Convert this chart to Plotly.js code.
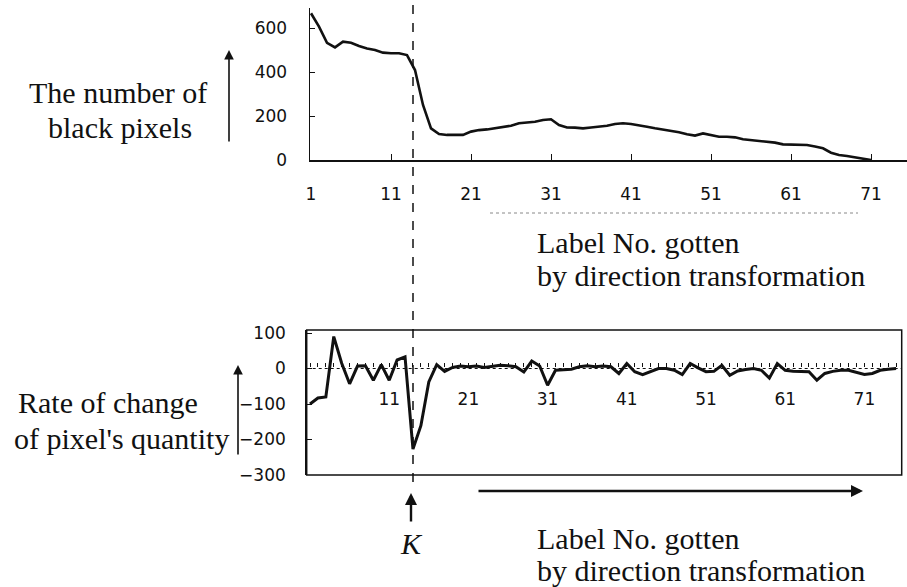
<!DOCTYPE html>
<html>
<head>
<meta charset="utf-8">
<script src="https://cdn.plot.ly/plotly-3.0.1.min.js"></script>
<style>html,body{margin:0;padding:0;background:#fff;}#chart{width:907px;height:587px;}</style>
</head>
<body>
<div id="chart"></div>
<script>
// Label numbers (x) for the black-pixel count series
var labelNo = [];
for (var i = 1; i <= 71; i++) labelNo.push(i);
var blackPixels = [667, 606, 533, 512, 538, 533, 518, 507, 500, 488,
                   485, 485, 477, 409, 250, 144, 118, 114, 114, 114,
                   129, 136, 139, 144, 148, 156, 167, 171, 174, 182,
                   185, 159, 148, 147, 144, 148, 151, 156, 164, 167,
                   164, 159, 151, 144, 139, 133, 126, 117, 111, 121,
                   114, 106, 106, 103, 94, 91, 88, 83, 79, 71,
                   71, 71, 68, 61, 53, 33, 23, 18, 12, 6, 0];

// Label numbers (x) for the rate-of-change series
var labelNo2 = [];
for (var j = 1; j <= 75; j++) labelNo2.push(j);
var rateOfChange = [-100, -83, -80, 90, 15, -43, 7, 8, -33, 11,
                    -33, 24, 33, -227, -161, -38, 11, -8, 3, 7,
                    5, 7, 3, 5, 9, 8, 5, -10, 21, 7,
                    -47, -5, -3, -2, 5, 8, 5, 7, 5, -14,
                    14, -9, -17, -9, 0, 0, -5, -17, 14, 2,
                    -9, -8, 9, -19, -7, -3, 0, -5, -27, 14,
                    -5, -8, -9, -9, -33, -14, -8, -5, -5, -11,
                    -17, -14, -5, -2, 0];

var topTicks = [1, 11, 21, 31, 41, 51, 61, 71];
var topYTicks = [0, 200, 400, 600];
var botTicks = [11, 21, 31, 41, 51, 61, 71];
var botYTicks = [-300, -200, -100, 0, 100];

var W = 907, H = 587;
function px(x) { return x / W; }
function py(y) { return 1 - y / H; }

var tickFont = {family: 'DejaVu Sans, Arial, sans-serif', size: 17, color: '#111'};
var serif = {family: 'Liberation Serif, Times New Roman, serif', size: 30, color: '#111'};

var traces = [
  {x: labelNo, y: blackPixels, xaxis: 'x', yaxis: 'y', mode: 'lines',
   line: {color: '#111', width: 2.6}, hoverinfo: 'skip'},
  {x: labelNo2, y: rateOfChange, xaxis: 'x2', yaxis: 'y2', mode: 'lines',
   line: {color: '#111', width: 3}, hoverinfo: 'skip'}
];

var layout = {
  width: W, height: H, autosize: false,
  margin: {l: 0, r: 0, t: 0, b: 0},
  paper_bgcolor: '#fff', plot_bgcolor: 'rgba(0,0,0,0)',
  showlegend: false,
  xaxis: {
    domain: [px(310), 1], range: [0.875, 75.5], anchor: 'y',
    showline: true, linecolor: '#111', linewidth: 1.5,
    showgrid: false, zeroline: false,
    tickmode: 'array', tickvals: topTicks,
    ticks: 'inside', ticklen: 6, tickcolor: '#111',
    ticklabelstandoff: 18, tickfont: tickFont
  },
  yaxis: {
    domain: [py(160), py(8)], range: [0, 691], anchor: 'x',
    showline: true, linecolor: '#111', linewidth: 1.5,
    showgrid: false, zeroline: false,
    tickmode: 'array', tickvals: topYTicks,
    ticks: 'inside', ticklen: 5, tickcolor: '#111',
    ticklabelstandoff: 18, tickfont: tickFont
  },
  xaxis2: {
    domain: [px(306.7), px(901.7)], range: [0.583, 75.71],
    anchor: 'free', position: py(366.7),
    showline: false, showgrid: false, zeroline: false,
    tickmode: 'array', tickvals: botTicks,
    ticks: 'inside', ticklen: 4, tickcolor: '#111',
    minor: {tickmode: 'linear', tick0: 1, dtick: 1, ticks: 'inside', ticklen: 4, tickcolor: '#111', showgrid: false},
    ticklabelstandoff: 20, tickfont: tickFont
  },
  yaxis2: {
    domain: [py(475), py(330)], range: [-300, 108.5], anchor: 'x2',
    showline: true, linecolor: '#111', linewidth: 1.5,
    showgrid: false, zeroline: false,
    tickmode: 'array', tickvals: botYTicks,
    ticks: 'inside', ticklen: 5, tickcolor: '#111',
    ticklabelstandoff: 16, tickfont: tickFont
  },
  shapes: [
    {type: 'rect', xref: 'x2 domain', yref: 'y2 domain', x0: 0, x1: 1, y0: 0, y1: 1,
     line: {color: '#111', width: 1.5}},
    {type: 'line', xref: 'x2 domain', yref: 'y2', x0: 0, x1: 1, y0: 0, y1: 0,
     line: {color: '#111', width: 1, dash: 'dot'}},
    {type: 'line', xref: 'paper', yref: 'paper', x0: px(413), x1: px(413), y0: py(5), y1: py(483),
     line: {color: '#111', width: 1.5, dash: 'dash'}},
    {type: 'line', xref: 'paper', yref: 'paper', x0: px(490), x1: px(858), y0: py(213), y1: py(213),
     line: {color: '#888', width: 1, dash: 'dot'}}
  ],
  annotations: [
    {xref: 'paper', yref: 'paper', x: px(118), y: py(92), text: 'The number of', showarrow: false,
     xanchor: 'center', yanchor: 'middle', font: serif},
    {xref: 'paper', yref: 'paper', x: px(120), y: py(128), text: 'black pixels', showarrow: false,
     xanchor: 'center', yanchor: 'middle', font: serif},
    {xref: 'paper', yref: 'paper', x: px(108), y: py(402), text: 'Rate of change', showarrow: false,
     xanchor: 'center', yanchor: 'middle', font: serif},
    {xref: 'paper', yref: 'paper', x: px(121), y: py(438), text: "of pixel's quantity", showarrow: false,
     xanchor: 'center', yanchor: 'middle', font: serif},
    {xref: 'paper', yref: 'paper', x: px(535), y: py(242), text: 'Label No. gotten', showarrow: false,
     xanchor: 'left', yanchor: 'middle', font: serif},
    {xref: 'paper', yref: 'paper', x: px(535), y: py(276), text: 'by direction transformation', showarrow: false,
     xanchor: 'left', yanchor: 'middle', font: serif},
    {xref: 'paper', yref: 'paper', x: px(535), y: py(538), text: 'Label No. gotten', showarrow: false,
     xanchor: 'left', yanchor: 'middle', font: serif},
    {xref: 'paper', yref: 'paper', x: px(535), y: py(570), text: 'by direction transformation', showarrow: false,
     xanchor: 'left', yanchor: 'middle', font: serif},
    {xref: 'paper', yref: 'paper', x: px(411), y: py(543), text: '<i>K</i>', showarrow: false,
     xanchor: 'center', yanchor: 'middle', font: serif},
    {xref: 'paper', yref: 'paper', x: px(229), y: py(50), ax: 0, ay: 93, text: '', showarrow: true,
     arrowhead: 2, arrowsize: 1.2, arrowwidth: 1.6, arrowcolor: '#111', standoff: 0, startstandoff: 0},
    {xref: 'paper', yref: 'paper', x: px(238), y: py(365), ax: 0, ay: 91, text: '', showarrow: true,
     arrowhead: 2, arrowsize: 1.2, arrowwidth: 1.6, arrowcolor: '#111', standoff: 0, startstandoff: 0},
    {xref: 'paper', yref: 'paper', x: px(411), y: py(493), ax: 0, ay: 30, text: '', showarrow: true,
     arrowhead: 2, arrowsize: 1, arrowwidth: 2.4, arrowcolor: '#111', standoff: 0, startstandoff: 0},
    {xref: 'paper', yref: 'paper', x: px(863), y: py(491), ax: -386, ay: 0, text: '', showarrow: true,
     arrowhead: 2, arrowsize: 1, arrowwidth: 2.4, arrowcolor: '#111', standoff: 0, startstandoff: 0}
  ]
};

Plotly.newPlot('chart', traces, layout, {staticPlot: true, displayModeBar: false});
</script>
</body>
</html>
